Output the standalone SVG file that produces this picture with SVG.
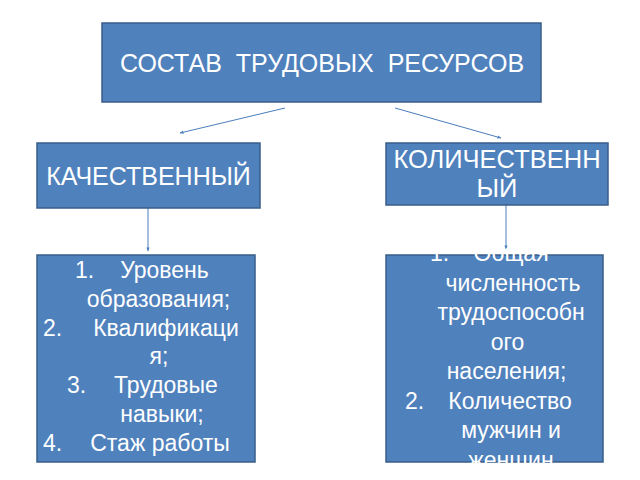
<svg xmlns="http://www.w3.org/2000/svg" width="640" height="480" viewBox="0 0 640 480">
<defs>
<marker id="ah" viewBox="0 0 10 10" refX="9" refY="5" markerWidth="4" markerHeight="4" orient="auto">
<path d="M0,1 L10,5 L0,9 z" fill="#4a7ebb"/>
</marker>
<style>
.box{fill:#4f81bd;stroke:#385d8a;stroke-width:1.5}
.t{font-family:"Liberation Sans",Arial,sans-serif;fill:#ffffff;font-size:23px;white-space:pre}
.m{text-anchor:middle}
.c{stroke:#4a7ebb;stroke-width:1;fill:none;marker-end:url(#ah)}
</style>
</defs>
<rect width="640" height="480" fill="#ffffff"/>
<g id="connectors">
<line class="c" x1="285" y1="108" x2="180" y2="133"/>
<line class="c" x1="395" y1="108" x2="501" y2="138"/>
<line class="c" x1="148" y1="208" x2="148" y2="251"/>
<line class="c" x1="506" y1="205" x2="506" y2="249"/>
</g>
<g id="root">
<rect class="box" x="102" y="23" width="439" height="79"/>
<text class="t m" x="322" y="72" style="font-size:25px">СОСТАВ  ТРУДОВЫХ  РЕСУРСОВ</text>
</g>
<g id="qual">
<rect class="box" x="37" y="143" width="223" height="65"/>
<text class="t m" x="148.5" y="185" style="font-size:25px">КАЧЕСТВЕННЫЙ</text>
</g>
<g id="quant">
<rect class="box" x="386" y="143" width="222" height="62"/>
<text class="t m" x="497" y="168" style="font-size:25.5px">КОЛИЧЕСТВЕНН</text>
<text class="t m" x="497" y="197" style="font-size:25.5px">ЫЙ</text>
</g>
<g id="qual-list">
<rect class="box" x="37" y="255" width="218" height="207"/>
<text class="t" x="75" y="278">1.</text>
<text class="t m" x="164.5" y="278">Уровень</text>
<text class="t m" x="158.5" y="307">образования;</text>
<text class="t" x="43" y="336">2.</text>
<text class="t m" x="166" y="336">Квалификаци</text>
<text class="t m" x="159" y="364">я;</text>
<text class="t" x="67" y="393">3.</text>
<text class="t m" x="166" y="393">Трудовые</text>
<text class="t m" x="162" y="422">навыки;</text>
<text class="t" x="43" y="451">4.</text>
<text class="t m" x="160" y="451">Стаж работы</text>
</g>
<g id="quant-list">
<rect class="box" x="386" y="255" width="217" height="207"/>
<text class="t" x="430" y="261">1.</text>
<text class="t m" x="511" y="261">Общая</text>
<text class="t m" x="513" y="290.5">численность</text>
<text class="t m" x="511" y="320">трудоспособн</text>
<text class="t m" x="507.5" y="349.5">ого</text>
<text class="t m" x="506.5" y="379">населения;</text>
<text class="t" x="405" y="408.5">2.</text>
<text class="t m" x="510" y="408.5">Количество</text>
<text class="t m" x="511" y="438">мужчин и</text>
<text class="t m" x="511" y="467.5">женщин</text>
</g>
</svg>
